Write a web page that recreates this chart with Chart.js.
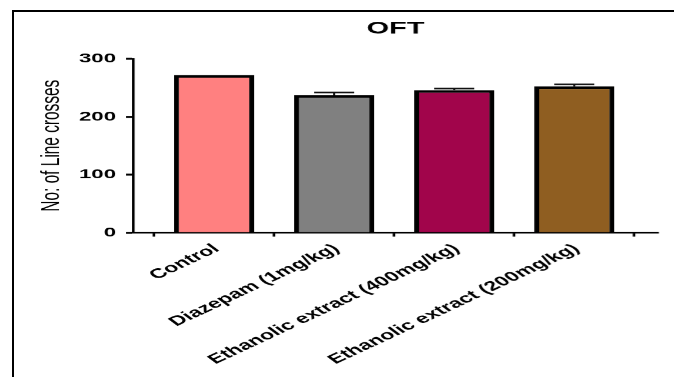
<!DOCTYPE html>
<html>
<head>
<meta charset="utf-8">
<title>OFT</title>
<script src="https://cdn.jsdelivr.net/npm/chart.js@4/dist/chart.umd.min.js"></script>
<style>
  html, body { margin: 0; padding: 0; background: #fff; }
  body { width: 674px; height: 377px; overflow: hidden; position: relative; }
  #plot { position: absolute; left: 0; top: 0; width: 396px; height: 377px; transform-origin: 0 0; }
  #frame { position: absolute; left: 12px; top: 10px; right: 0; bottom: 0;
           border-top: 2px solid #000; border-left: 2px solid #000; pointer-events: none; }
</style>
</head>
<body>
<div id="plot"><canvas id="chart"></canvas></div>
<div id="frame"></div>
<script>
// Open field test: number of line crossings per group (mean + SEM)
const groups = ['Control', 'Diazepam (1mg/kg)', 'Ethanolic extract (400mg/kg)', 'Ethanolic extract (200mg/kg)'];
const lineCrosses = [272, 237, 246, 252.5];
const sem = [0, 5, 2.7, 3.4];
const yTicks = [0, 100, 200, 300];

const FONT = '"Liberation Sans", Arial, sans-serif';
// the figure is drawn wide: everything is stretched horizontally by this factor
const WIDE = 1.7025;
document.getElementById('plot').style.transform = `scaleX(${WIDE})`;

// upper SEM whiskers with a cap, drawn on top of the bars
const errorBars = {
  id: 'errorBars',
  afterDatasetsDraw(chart) {
    const { ctx, scales: { x, y } } = chart;
    const bars = chart.getDatasetMeta(0).data;
    ctx.save();
    ctx.strokeStyle = '#111';
    lineCrosses.forEach((v, i) => {
      const e = sem[i];
      if (!e) return;
      const px = x.getPixelForValue(i);
      const yMean = y.getPixelForValue(v);
      const yTop = y.getPixelForValue(v + e);
      const half = bars[i].width * 0.25;
      ctx.lineWidth = 1.2;
      ctx.beginPath(); ctx.moveTo(px, yMean); ctx.lineTo(px, yTop); ctx.stroke();
      ctx.lineWidth = 1.7;
      ctx.beginPath(); ctx.moveTo(px - half, yTop); ctx.lineTo(px + half, yTop); ctx.stroke();
    });
    ctx.restore();
  }
};

new Chart(document.getElementById('chart'), {
  type: 'bar',
  data: {
    datasets: [{
      data: groups.map((g, i) => ({ x: i, y: lineCrosses[i] })),
      backgroundColor: ['#FF8080', '#808080', '#A1054B', '#8F5E21'],
      borderColor: '#000',
      borderWidth: { top: 2.7, left: 2.9, right: 2.9, bottom: 0 },
      borderSkipped: 'start',
      categoryPercentage: 0.667,
      barPercentage: 1
    }]
  },
  options: {
    devicePixelRatio: WIDE,
    responsive: true,
    maintainAspectRatio: false,
    animation: false,
    layout: { padding: { left: 17, right: 9.5, top: 0, bottom: 0 } },
    plugins: {
      legend: { display: false },
      tooltip: { enabled: false },
      title: {
        display: true,
        text: 'OFT',
        fullSize: false,
        color: '#000',
        font: { family: FONT, size: 17, weight: 'bold' },
        padding: { top: 18.5, bottom: 19.8 }
      }
    },
    scales: {
      x: {
        type: 'linear',
        min: -0.675,
        max: 3.699,
        offset: false,
        afterBuildTicks: s => { s.ticks = groups.map((g, i) => ({ value: i })); },
        afterFit: s => { s.height = 144.7; },
        grid: { drawOnChartArea: false, drawTicks: true, tickLength: 4, tickWidth: 1.5, tickColor: '#000' },
        border: { display: true, color: '#000', width: 1.8 },
        ticks: {
          autoSkip: false,
          minRotation: 38.4,
          maxRotation: 38.4,
          padding: 4.2,
          labelOffset: 1.5,
          color: '#000',
          font: { family: FONT, size: 13.5, weight: 'bold' },
          callback: v => groups[v]
        }
      },
      y: {
        min: 0,
        max: 300,
        afterBuildTicks: s => { s.ticks = yTicks.map(v => ({ value: v })); },
        afterFit: s => { s.width = 61.1; },
        grid: { drawOnChartArea: false, drawTicks: true, tickLength: 4.1, tickWidth: 2, tickColor: '#000' },
        border: { color: '#000', width: 1.5 },
        ticks: { padding: 5.9, color: '#000', font: { family: FONT, size: 13, weight: 'bold' } },
        title: {
          display: true,
          text: 'No: of Line crosses',
          color: '#000',
          font: { family: FONT, size: 15.4, weight: 'normal' },
          padding: { top: 4, bottom: 4 }
        }
      }
    }
  },
  plugins: [errorBars]
});
</script>
</body>
</html>
